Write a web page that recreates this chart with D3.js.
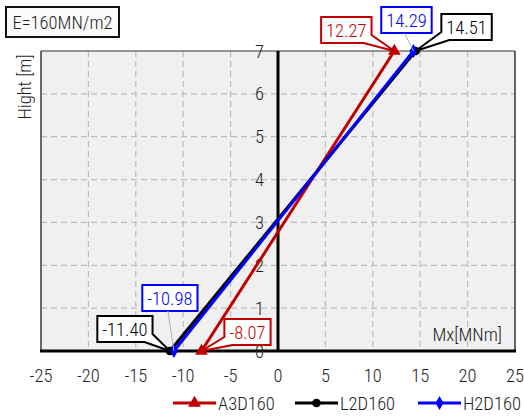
<!DOCTYPE html>
<html>
<head>
<meta charset="utf-8">
<script src="https://cdn.jsdelivr.net/npm/d3@7"></script>
<style>
  html, body { margin: 0; padding: 0; background: #fff; }
  svg text { font-family: "Liberation Sans Narrow", "Arial Narrow", "Roboto Condensed", "Liberation Sans", sans-serif; font-weight: 300; }
</style>
</head>
<body>
<svg id="chart" width="524" height="416"></svg>
<script>
// Bending moment Mx along the height for three wall types
const seriesNames = ["A3D160", "L2D160", "H2D160"];
const seriesColors = ["#c00000", "#000000", "#0000ff"];
const seriesMarkers = ["triangle", "circle", "diamond"];
const heights = [0, 7];
const momentsA3D160 = [-8.07, 12.27];
const momentsL2D160 = [-11.40, 14.51];
const momentsH2D160 = [-10.98, 14.29];
const xTicks = [-25, -20, -15, -10, -5, 0, 5, 10, 15, 20, 25];
const yTicks = [0, 1, 2, 3, 4, 5, 6, 7];
const titleText = "E=160MN/m2";
const xTitle = "Mx[MNm]";
const yTitle = "Hight [m]";

const allMoments = [momentsA3D160, momentsL2D160, momentsH2D160];
const fs = 18.5;
const textColor = "#1e1e1e";

const svg = d3.select("#chart");
const x = d3.scaleLinear().domain([-25, 25]).range([41, 515]);
const y = d3.scaleLinear().domain([0, 7]).range([351, 51]);

// plot background
svg.append("rect")
  .attr("x", x(-25)).attr("y", y(7))
  .attr("width", x(25) - x(-25)).attr("height", y(0) - y(7))
  .attr("fill", "#f0f0f0");

// dashed grid
const grid = svg.append("g").attr("stroke", "#bdbdbd").attr("stroke-width", 1.2).attr("stroke-dasharray", "6,4");
grid.selectAll("line.v").data(xTicks.filter(t => t !== 0 && t !== -25 && t !== 25)).join("line")
  .attr("x1", d => x(d)).attr("x2", d => x(d))
  .attr("y1", y(7)).attr("y2", y(0));
grid.selectAll("line.h").data(yTicks.filter(t => t !== 0 && t !== 7)).join("line")
  .attr("x1", x(-25)).attr("x2", x(25))
  .attr("y1", d => y(d)).attr("y2", d => y(d));

// frame
svg.append("line").attr("x1", x(-25)).attr("x2", x(-25)).attr("y1", y(7)).attr("y2", y(0))
  .attr("stroke", "#6a6a6a").attr("stroke-width", 2);
svg.append("line").attr("x1", x(-25)).attr("x2", x(25)).attr("y1", y(7)).attr("y2", y(7))
  .attr("stroke", "#333").attr("stroke-width", 1.2);
svg.append("line").attr("x1", x(25)).attr("x2", x(25)).attr("y1", y(7)).attr("y2", y(0))
  .attr("stroke", "#333").attr("stroke-width", 1.5);

// zero axes
svg.append("line").attr("x1", x(-25) - 1).attr("x2", x(25) + 1).attr("y1", y(0)).attr("y2", y(0))
  .attr("stroke", "#000").attr("stroke-width", 3);
svg.append("line").attr("x1", x(0)).attr("x2", x(0)).attr("y1", y(7)).attr("y2", y(0))
  .attr("stroke", "#000").attr("stroke-width", 3);

// x tick labels
svg.append("g").selectAll("text").data(xTicks).join("text")
  .attr("x", d => x(d)).attr("y", 382)
  .attr("text-anchor", "middle").attr("font-size", fs).attr("fill", textColor)
  .text(d => d);

// y tick labels next to the zero axis
svg.append("g").selectAll("text").data(yTicks).join("text")
  .attr("x", x(0) - 14).attr("y", d => y(d) + 6.5)
  .attr("text-anchor", "end").attr("font-size", fs).attr("fill", textColor)
  .text(d => d);

// axis titles
svg.append("text").attr("x", 502).attr("y", 341).attr("text-anchor", "end")
  .attr("font-size", fs).attr("fill", textColor).text(xTitle);
svg.append("text").attr("transform", "translate(31,87) rotate(-90)").attr("text-anchor", "middle")
  .attr("font-size", fs).attr("fill", textColor).text(yTitle);

// title box
const tg = svg.append("g");
tg.append("rect").attr("x", 6).attr("y", 7).attr("width", 113).attr("height", 30)
  .attr("fill", "#fafafa").attr("stroke", "#111").attr("stroke-width", 2);
tg.append("text").attr("x", 62.5).attr("y", 28.5).attr("text-anchor", "middle")
  .attr("font-size", fs).attr("fill", textColor).text(titleText);

// series lines
const line = d3.line().x(d => x(d[0])).y(d => y(d[1]));
allMoments.forEach((m, i) => {
  svg.append("path")
    .datum(m.map((v, k) => [v, heights[k]]))
    .attr("d", line).attr("fill", "none")
    .attr("stroke", seriesColors[i]).attr("stroke-width", 3);
});

// markers
const symbolTypes = { triangle: d3.symbolTriangle, circle: d3.symbolCircle, diamond: d3.symbolDiamond };
const symbolSizes = { triangle: 70, circle: 60, diamond: 55 };
function marker(g, type, color, cx, cy) {
  g.append("path")
    .attr("d", d3.symbol().type(symbolTypes[type]).size(symbolSizes[type])())
    .attr("transform", `translate(${cx},${cy})`)
    .attr("fill", color);
}
allMoments.forEach((m, i) => {
  m.forEach((v, k) => marker(svg, seriesMarkers[i], seriesColors[i], x(v), y(heights[k])));
});

// value callouts: box offset from the point and how it is attached
const calloutLayout = [
  // [series, point index, dx, dy, style]
  [0, 1, -48, -21, "wedge"],
  [2, 1, -7, -31, "leader"],
  [1, 1, 51, -24, "wedge"],
  [2, 0, -4, -53, "leader"],
  [1, 0, -45, -22, "wedge"],
  [0, 0, 46, -19, "wedge"]
];
const cg = svg.append("g");
calloutLayout.forEach(([s, k, dx, dy, style]) => {
  const v = allMoments[s][k];
  const px = x(v), py = y(heights[k]);
  const cx = px + dx, cy = py + dy;
  const color = seriesColors[s];
  const g = cg.append("g");
  const t = g.append("text").attr("x", cx).attr("y", cy + 6.5)
    .attr("text-anchor", "middle").attr("font-size", fs).attr("fill", color)
    .text(v.toFixed(2));
  const tw = t.node().getComputedTextLength();
  const w = tw + 10, h = 26;
  const l = cx - w / 2, r = cx + w / 2, tp = cy - h / 2, b = cy + h / 2;
  let d;
  if (style === "wedge") {
    const s1 = 8;
    if (px > cx) {
      // wedge from the bottom-right corner
      d = `M${l},${tp}L${r},${tp}L${r},${b - s1}L${px},${py}L${r - s1},${b}L${l},${b}Z`;
    } else {
      // wedge from the bottom-left corner
      d = `M${l},${tp}L${r},${tp}L${r},${b}L${l + s1},${b}L${px},${py}L${l},${b - s1}Z`;
    }
  } else {
    g.append("line").attr("x1", cx - 2).attr("y1", b).attr("x2", px).attr("y2", py)
      .attr("stroke", "#b0b0b0").attr("stroke-width", 1);
    d = `M${l},${tp}L${r},${tp}L${r},${b}L${l},${b}Z`;
  }
  g.insert("path", "text").attr("d", d).attr("fill", "#fff")
    .attr("stroke", color).attr("stroke-width", 2).attr("stroke-linejoin", "miter");
  g.raise();
});

// legend
const legendX = [173, 295, 418];
const lg = svg.append("g");
seriesNames.forEach((name, i) => {
  const lx = legendX[i], ly = 403;
  lg.append("line").attr("x1", lx).attr("x2", lx + 43).attr("y1", ly).attr("y2", ly)
    .attr("stroke", seriesColors[i]).attr("stroke-width", 3);
  marker(lg, seriesMarkers[i], seriesColors[i], lx + 21.5, ly);
  lg.append("text").attr("x", lx + 45).attr("y", ly + 6.5).attr("font-size", fs)
    .attr("fill", textColor).text(name);
});
</script>
</body>
</html>
